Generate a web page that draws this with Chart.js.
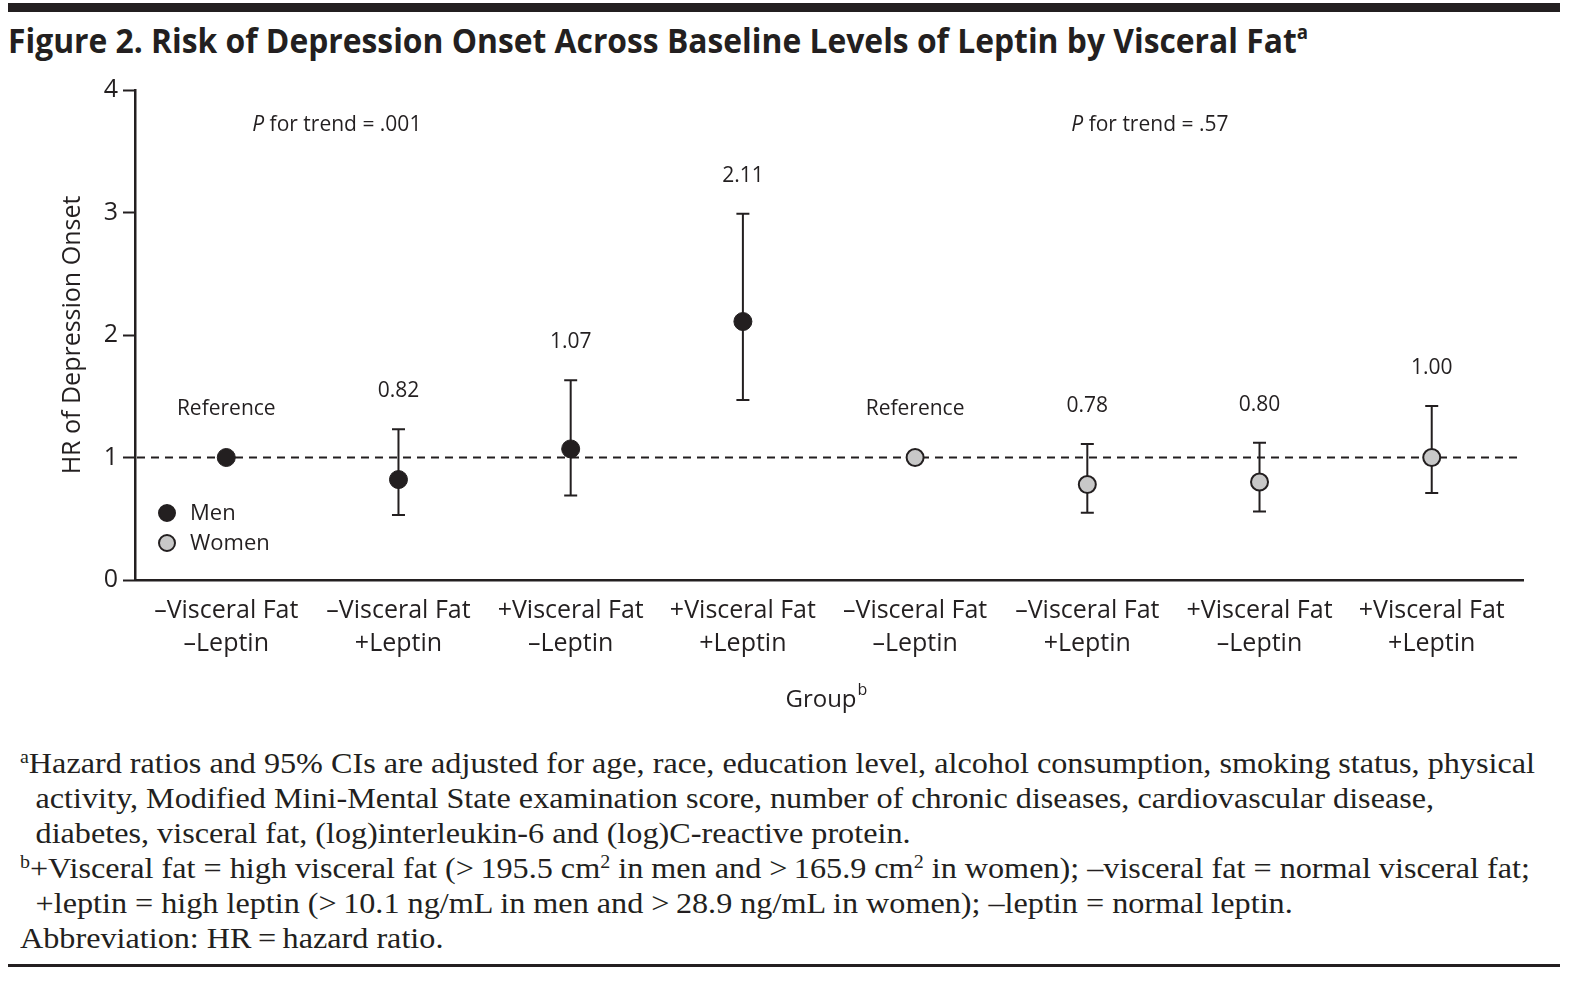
<!DOCTYPE html>
<html lang="en">
<head>
<meta charset="UTF-8">
<title>Figure 2. Risk of Depression Onset</title>
<script src="https://cdn.jsdelivr.net/npm/chart.js@4.4.1/dist/chart.umd.min.js"></script>
<style>
    body { margin: 0; background: #fff; width: 1589px; height: 981px; position: relative; overflow: hidden; color: #231f20; }
    .rule { position: absolute; left: 8px; width: 1552px; background: #231f20; }
    #title { position: absolute; left: 8px; top: 17px; font-family: "Open Sans", sans-serif; font-weight: bold; font-size: 34px; line-height: 46px; white-space: nowrap; transform-origin: left top; }
    #title sup { font-size: 20px; font-weight: bold; vertical-align: 0; position: relative; top: -14px; line-height: 0; }
    #chartBox { position: absolute; left: 0; top: 70px; width: 1589px; height: 660px; }
    #notes { position: absolute; left: 20px; top: 746px; font-family: "Liberation Serif", serif; font-size: 29px; line-height: 35px; white-space: nowrap; }
    #notes div { transform-origin: left top; height: 35px; }
    #notes .ind { padding-left: 14px; }
    #notes sup { font-size: 62%; vertical-align: 0; position: relative; top: -0.55em; line-height: 0; }
</style>
</head>
<body>
    <div class="rule" style="top:3px;height:9px"></div>
    <div id="title">Figure 2. Risk of Depression Onset Across Baseline Levels of Leptin by Visceral Fat<sup>a</sup></div>
    <div id="chartBox"><canvas id="chart"></canvas></div>
    <div id="notes">
        <div id="n1"><sup>a</sup>Hazard ratios and 95% CIs are adjusted for age, race, education level, alcohol consumption, smoking status, physical</div>
        <div class="ind">activity, Modified Mini-Mental State examination score, number of chronic diseases, cardiovascular disease,</div>
        <div class="ind">diabetes, visceral fat, (log)interleukin-6 and (log)C-reactive protein.</div>
        <div><sup>b</sup>+Visceral fat = high visceral fat (&gt;&#8201;195.5 cm<sup>2</sup> in men and &gt;&#8201;165.9 cm<sup>2</sup> in women); &ndash;visceral fat = normal visceral fat;</div>
        <div class="ind">+leptin = high leptin (&gt;&#8201;10.1 ng/mL in men and &gt;&#8201;28.9 ng/mL in women); &ndash;leptin = normal leptin.</div>
        <div>Abbreviation: HR&#8201;=&#8201;hazard ratio.</div>
    </div>
    <div class="rule" style="top:964px;height:3px"></div>
<script>
// groups on the x axis (two lines each)
const groups = [
    ['\u2013Visceral Fat', '\u2013Leptin'],
    ['\u2013Visceral Fat', '+Leptin'],
    ['+Visceral Fat', '\u2013Leptin'],
    ['+Visceral Fat', '+Leptin'],
    ['\u2013Visceral Fat', '\u2013Leptin'],
    ['\u2013Visceral Fat', '+Leptin'],
    ['+Visceral Fat', '\u2013Leptin'],
    ['+Visceral Fat', '+Leptin']
];
// hazard ratios and 95% CI
const menHR    = [1.00, 0.82, 1.07, 2.11, null, null, null, null];
const menLow   = [null, 0.53, 0.69, 1.47, null, null, null, null];
const menHigh  = [null, 1.23, 1.63, 2.99, null, null, null, null];
const womenHR   = [null, null, null, null, 1.00, 0.78, 0.80, 1.00];
const womenLow  = [null, null, null, null, null, 0.55, 0.56, 0.71];
const womenHigh = [null, null, null, null, null, 1.11, 1.12, 1.42];
const pointLabels = ['Reference', '0.82', '1.07', '2.11', 'Reference', '0.78', '0.80', '1.00'];
const trendText = ['.001', '.57'];
const yTicks = [0, 1, 2, 3, 4];

const ink = '#231f20';
const grey = '#c8c8c8';
const sans = '"Open Sans", sans-serif';

// fit title and notes widths to the original
function fitWidth(el, target) {
    const w = el.getBoundingClientRect().width;
    el.style.transform = 'scaleX(' + (target / w) + ')';
}
const titleEl = document.getElementById('title');
titleEl.style.display = 'inline-block';
fitWidth(titleEl, 1300);
const n1 = document.getElementById('n1');
n1.style.display = 'inline-block';
const sc = 1515 / n1.getBoundingClientRect().width;
n1.style.display = '';
document.querySelectorAll('#notes div').forEach(d => d.style.transform = 'scaleX(' + sc + ')');

const toPoints = arr => arr.map((v, i) => v == null ? null : {x: i, y: v}).filter(p => p);

const extras = {
    id: 'extras',
    beforeDatasetsDraw(chart) {
        const {ctx, chartArea, scales: {x, y}} = chart;
        ctx.save();
        // reference line at HR = 1
        ctx.strokeStyle = ink;
        ctx.lineWidth = 2;
        ctx.setLineDash([8, 6]);
        ctx.beginPath();
        ctx.moveTo(chartArea.left + 2, y.getPixelForValue(1));
        ctx.lineTo(chartArea.right, y.getPixelForValue(1));
        ctx.stroke();
        ctx.setLineDash([]);
        // error bars
        const bars = (lo, hi) => {
            for (let i = 0; i < lo.length; i++) {
                if (lo[i] == null) continue;
                const px = x.getPixelForValue(i);
                const y1 = y.getPixelForValue(lo[i]), y2 = y.getPixelForValue(hi[i]);
                ctx.beginPath();
                ctx.moveTo(px, y1); ctx.lineTo(px, y2);
                ctx.moveTo(px - 6.5, y1); ctx.lineTo(px + 6.5, y1);
                ctx.moveTo(px - 6.5, y2); ctx.lineTo(px + 6.5, y2);
                ctx.stroke();
            }
        };
        bars(menLow, menHigh);
        bars(womenLow, womenHigh);
        ctx.restore();
    },
    afterDraw(chart) {
        const {ctx, chartArea, scales: {x, y}} = chart;
        ctx.save();
        ctx.fillStyle = ink;
        ctx.textAlign = 'center';
        ctx.textBaseline = 'middle';
        ctx.font = '21px ' + sans;
        const hr = menHR.map((v, i) => v != null ? v : womenHR[i]);
        const hi = menHigh.map((v, i) => v != null ? v : womenHigh[i]);
        pointLabels.forEach((t, i) => {
            const py = hi[i] != null ? y.getPixelForValue(hi[i]) - 38 : y.getPixelForValue(hr[i]) - 48;
            ctx.fillText(t, x.getPixelForValue(i), py);
        });
        // P for trend
        ctx.textAlign = 'left';
        const trendY = chartArea.top + 35;
        [[0, 26], [5, -16]].forEach((c, k) => {
            let tx = x.getPixelForValue(c[0]) + c[1];
            ctx.font = 'italic 21px ' + sans;
            ctx.fillText('P', tx, trendY);
            tx += ctx.measureText('P ').width;
            ctx.font = '21px ' + sans;
            ctx.fillText('for trend = ' + trendText[k], tx, trendY);
        });
        // legend
        const leg = [['Men', ink], ['Women', grey]];
        leg.forEach((l, k) => {
            const ly = chartArea.bottom - 67 + k * 30;
            ctx.beginPath();
            ctx.arc(chartArea.left + 32, ly, 8, 0, Math.PI * 2);
            ctx.fillStyle = l[1];
            ctx.fill();
            ctx.lineWidth = 2;
            ctx.strokeStyle = ink;
            ctx.stroke();
            ctx.fillStyle = ink;
            ctx.font = '22px ' + sans;
            ctx.fillText(l[0], chartArea.left + 55, ly + 1);
        });
        // x axis title with superscript
        ctx.font = '24px ' + sans;
        const gw = ctx.measureText('Group').width;
        const cx = (chartArea.left + chartArea.right) / 2 - 8;
        const ty = chartArea.bottom + 120;
        ctx.fillText('Group', cx - gw / 2, ty);
        ctx.font = '16px ' + sans;
        ctx.fillText('b', cx + gw / 2 + 1, ty - 10);
        ctx.restore();
    }
};

new Chart(document.getElementById('chart'), {
    type: 'scatter',
    data: {
        datasets: [
            {label: 'Men', data: toPoints(menHR), pointRadius: 9, pointHoverRadius: 9,
             pointBackgroundColor: ink, pointBorderColor: ink, pointBorderWidth: 1},
            {label: 'Women', data: toPoints(womenHR), pointRadius: 8.5, pointHoverRadius: 8.5,
             pointBackgroundColor: grey, pointBorderColor: ink, pointBorderWidth: 2}
        ]
    },
    options: {
        responsive: true,
        maintainAspectRatio: false,
        animation: false,
        events: [],
        layout: {padding: {top: 18, right: 66, left: 0, bottom: 0}},
        plugins: {legend: {display: false}, tooltip: {enabled: false}},
        scales: {
            x: {
                type: 'linear',
                min: -0.53, max: 7.53,
                afterBuildTicks(s) { s.ticks = groups.map((g, i) => ({value: i})); },
                grid: {display: false, drawTicks: false},
                border: {display: true, color: ink, width: 2.5},
                ticks: {color: ink, font: {family: sans, size: 25, lineHeight: 1.34}, padding: 14, maxRotation: 0, autoSkip: false,
                        callback: v => groups[v]},
                afterFit(s) { s.height = 150; }
            },
            y: {
                min: 0, max: 4,
                afterBuildTicks(s) { s.ticks = yTicks.map(v => ({value: v})); },
                grid: {drawOnChartArea: false, drawTicks: true, tickLength: 12, tickColor: ink, tickWidth: 2},
                border: {display: true, color: ink, width: 2.5},
                ticks: {color: ink, font: {family: sans, size: 25}, padding: 5},
                title: {display: true, text: 'HR of Depression Onset', color: ink,
                        font: {family: sans, size: 25}, padding: {top: 58, bottom: 0}},
                afterFit(s) { s.width = 135; }
            }
        }
    },
    plugins: [extras]
});
</script>
</body>
</html>
